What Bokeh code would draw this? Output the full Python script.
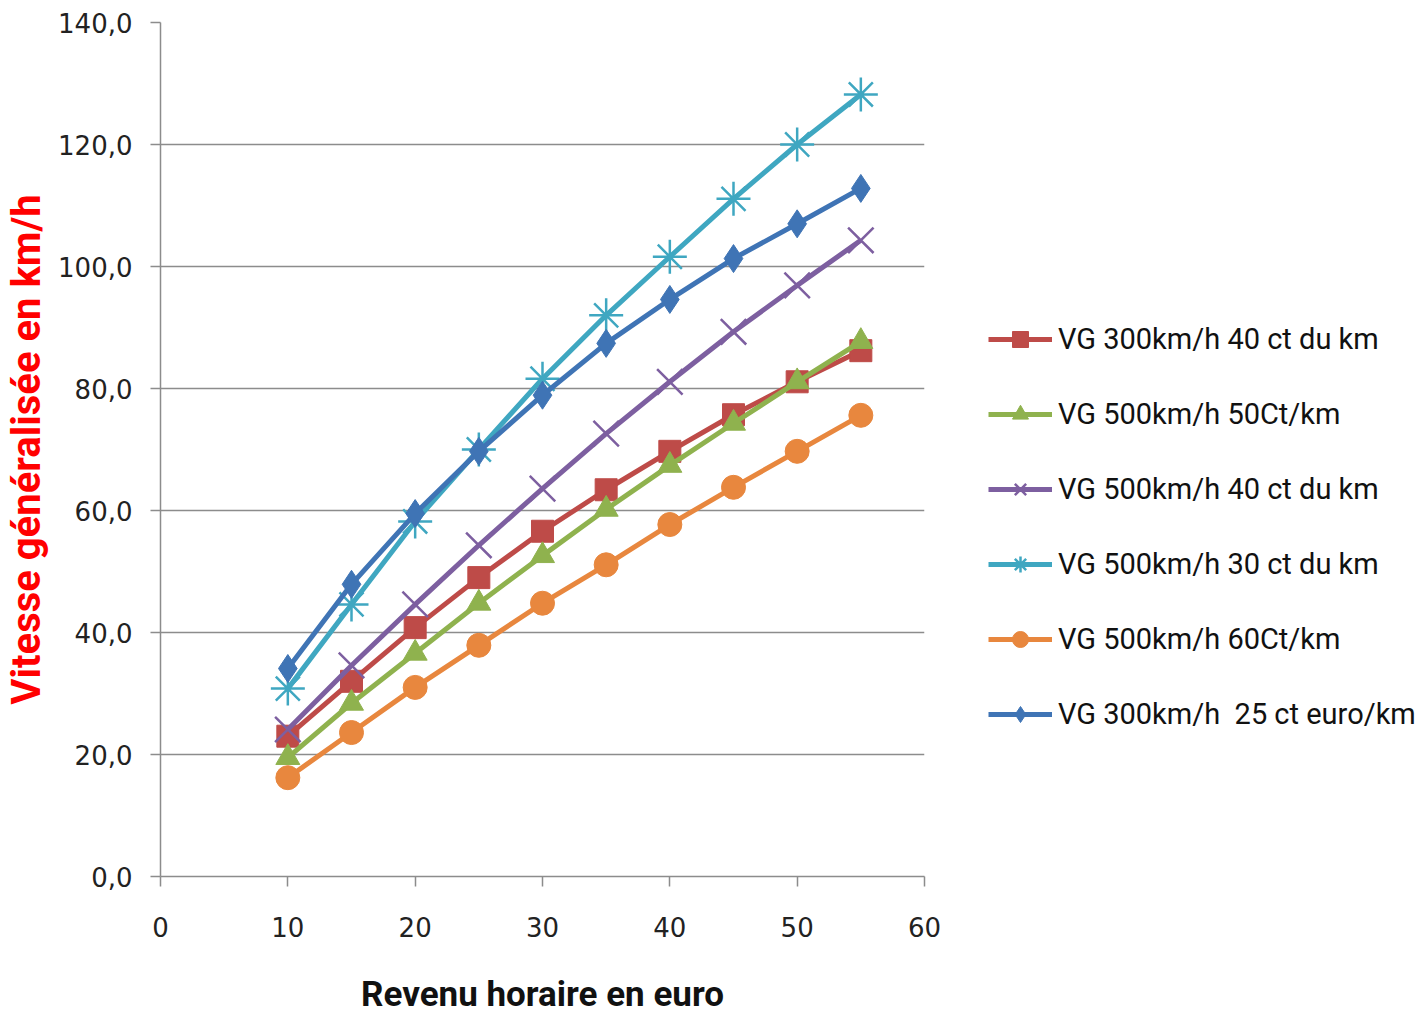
from bokeh.plotting import figure
from bokeh.models import Legend, LegendItem, FixedTicker, CustomJSTickFormatter
from bokeh.embed import file_html
from bokeh.resources import INLINE

revenu = [10, 15, 20, 25, 30, 35, 40, 45, 50, 55]

vg300_40 = [23.0, 32.0, 40.8, 49.0, 56.6, 63.4, 69.7, 75.7, 81.1, 86.2]
vg500_50 = [19.5, 28.4, 36.6, 44.8, 52.6, 60.2, 67.4, 74.3, 81.1, 87.7]
vg500_40 = [24.1, 34.6, 44.6, 54.3, 63.6, 72.6, 81.1, 89.3, 96.9, 104.3]
vg500_30 = [30.8, 44.6, 58.2, 70.0, 81.6, 92.0, 101.6, 111.1, 120.0, 128.2]
vg500_60 = [16.2, 23.6, 31.0, 37.9, 44.8, 51.1, 57.7, 63.8, 69.7, 75.6]
vg300_25 = [34.1, 47.9, 59.5, 69.7, 78.9, 87.4, 94.6, 101.3, 107.0, 112.8]

labels = ["VG 300km/h 40 ct du km", "VG 500km/h 50Ct/km", "VG 500km/h 40 ct du km",
          "VG 500km/h 30 ct du km", "VG 500km/h 60Ct/km", "VG 300km/h  25 ct euro/km"]
colors = ["#BE4B48", "#8FB24E", "#7D5FA0", "#3FA7C1", "#E8873E", "#3F74B5"]
markers = ["square", "triangle", "x", "asterisk", "circle", "diamond"]
sizes = [22, 24, 36, 34, 24, 28]
series = [vg300_40, vg500_50, vg500_40, vg500_30, vg500_60, vg300_25]

x_ticks = [0, 10, 20, 30, 40, 50, 60]
y_ticks = [0, 20, 40, 60, 80, 100, 120, 140]

p = figure(frame_width=764, frame_height=854, output_backend="svg", toolbar_location=None,
           x_range=(0, 60), y_range=(0, 140),
           min_border_left=160, min_border_right=0, min_border_top=22, min_border_bottom=141)
p.outline_line_color = None
p.xgrid.grid_line_color = None
p.ygrid.grid_line_color = "#8C8C8C"
p.ygrid.grid_line_width = 1.5

p.xaxis.ticker = FixedTicker(ticks=x_ticks)
p.yaxis.ticker = FixedTicker(ticks=y_ticks)
p.yaxis.formatter = CustomJSTickFormatter(code="return tick.toFixed(1).replace('.', ',');")

for ax in (p.xaxis[0], p.yaxis[0]):
    ax.axis_line_color = "#8C8C8C"
    ax.axis_line_width = 1.5
    ax.major_tick_line_color = "#8C8C8C"
    ax.major_tick_line_width = 1.5
    ax.major_tick_out = 10
    ax.major_tick_in = 0
    ax.minor_tick_line_color = None
    ax.major_label_text_font = "DejaVu Sans"
    ax.major_label_text_font_size = "26px"
    ax.major_label_text_color = "#222222"
    ax.axis_label_text_font = "Roboto"
    ax.axis_label_text_font_style = "bold"

p.yaxis.major_label_standoff = 18
p.xaxis.major_label_standoff = 30
p.xaxis.axis_label = "Revenu horaire en euro"
p.xaxis.axis_label_text_font_size = "35px"
p.xaxis.axis_label_text_color = "#111111"
p.xaxis.axis_label_standoff = 34
p.yaxis.axis_label = "Vitesse généralisée en km/h"
p.yaxis.axis_label_text_font_size = "40px"
p.yaxis.axis_label_text_color = "#FF0000"
p.yaxis.axis_label_standoff = 5

items = []
for lab, col, mk, sz, ys in zip(labels, colors, markers, sizes, series):
    ln = p.line(revenu, ys, line_color=col, line_width=5)
    if mk in ("x", "asterisk"):
        sc = p.scatter(revenu, ys, marker=mk, size=sz, line_color=col, line_width=2.5, fill_color=None)
    else:
        sc = p.scatter(revenu, ys, marker=mk, size=sz, fill_color=col, line_color=col)
    items.append(LegendItem(label=lab, renderers=[ln, sc]))

legend = Legend(items=items, location=(64, 142), glyph_width=64, glyph_height=40,
                label_text_font="Roboto", label_text_font_size="29px", label_text_color="#111111",
                label_standoff=6, spacing=35, padding=0, margin=0,
                border_line_color=None, background_fill_color=None)
p.add_layout(legend, "right")

open("out.html", "w").write(file_html(p, INLINE))
